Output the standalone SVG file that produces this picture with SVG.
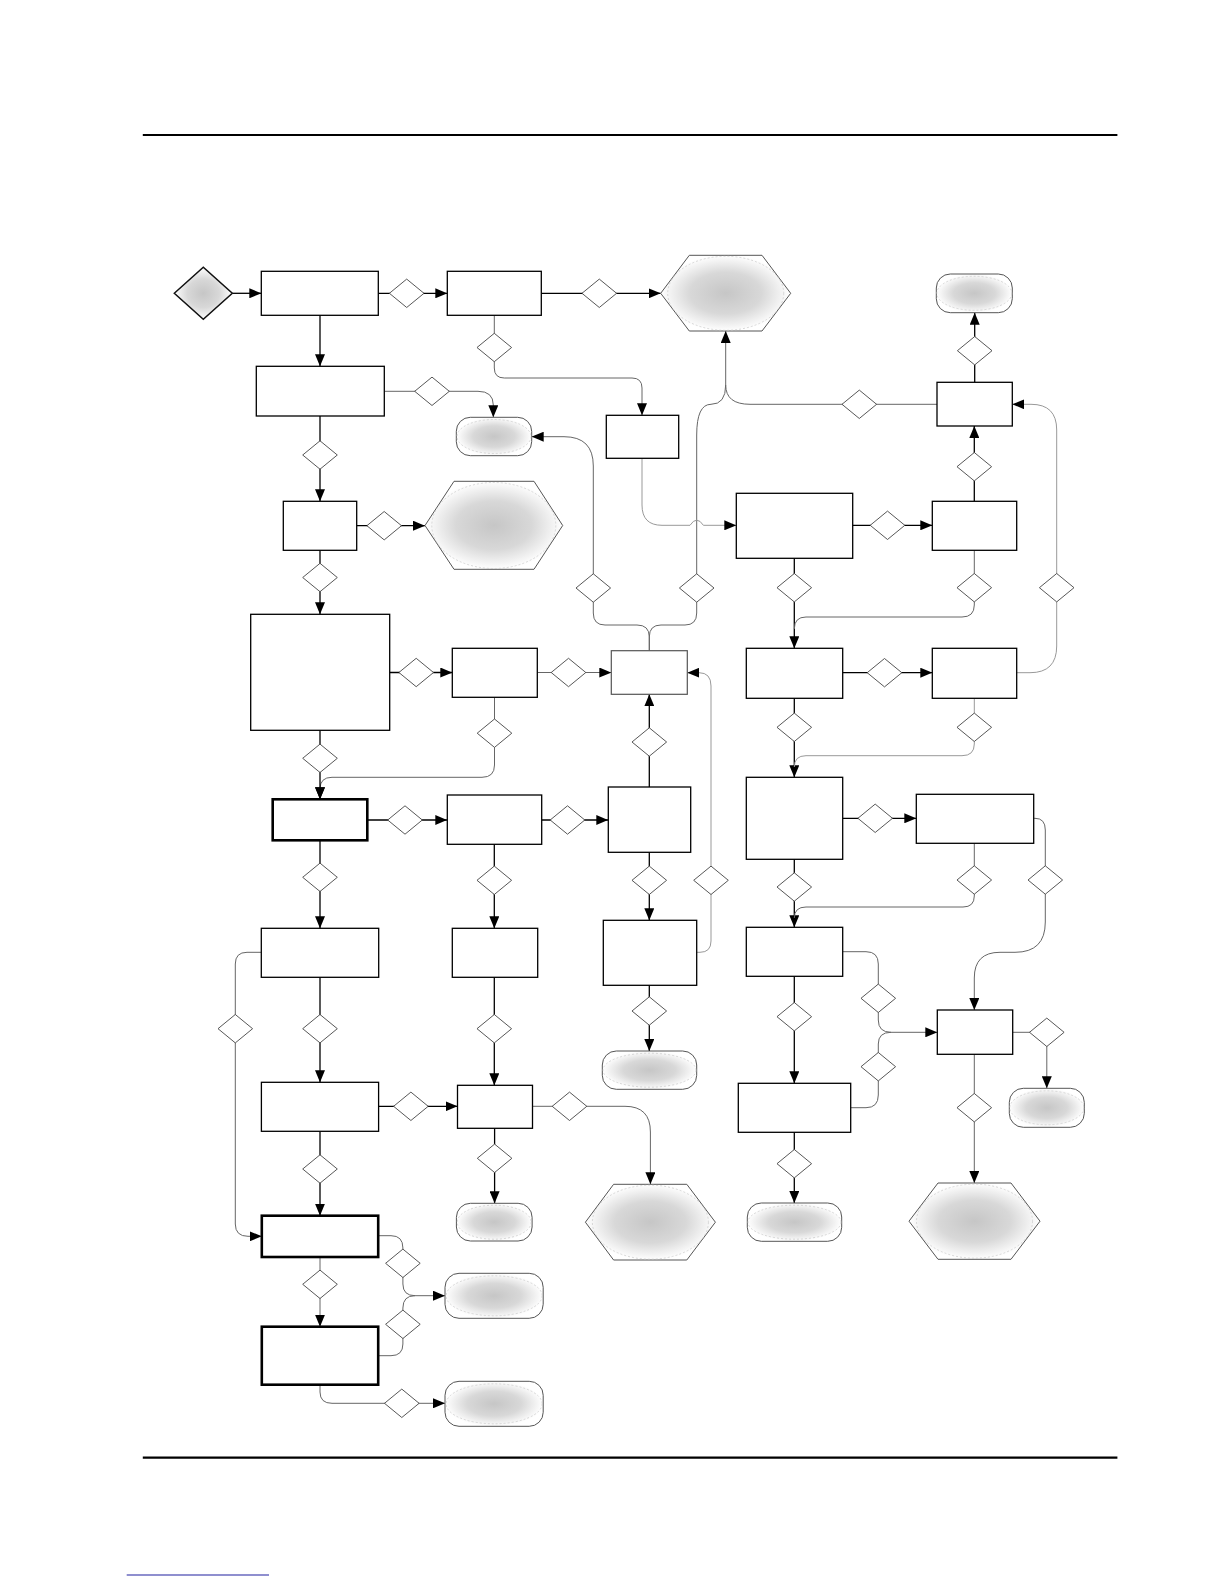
<svg xmlns="http://www.w3.org/2000/svg" xmlns:xlink="http://www.w3.org/1999/xlink" width="1224" height="1584" viewBox="0 0 1224 1584">
<style>
.bx{fill:#fff;stroke:#000;stroke-width:1.3}
.bxg{fill:#fff;stroke:#555;stroke-width:1.2}
.bxt{fill:#fff;stroke:#000;stroke-width:2.6}
.term{fill:url(#rg);stroke:#555;stroke-width:1}
.hex{fill:url(#rg);stroke:#555;stroke-width:1}
.inner{fill:none;stroke:#c8c8c8;stroke-width:0.7;stroke-dasharray:2 2}
.cb{fill:none;stroke:#000;stroke-width:1.3}
.cg{fill:none;stroke:#666;stroke-width:1}
.cl{fill:none;stroke:#999;stroke-width:1}
.arr{marker-end:url(#ah)}
.rule{stroke:#000;stroke-width:2.2}
</style>
<defs>
<radialGradient id="rg" cx="0.5" cy="0.5" r="0.5">
<stop offset="0" stop-color="#c6c6c6"/>
<stop offset="0.55" stop-color="#d8d8d8"/>
<stop offset="1" stop-color="#ffffff"/>
</radialGradient>
<marker id="ah" viewBox="0 0 12 10" refX="12" refY="5" markerWidth="12" markerHeight="10" markerUnits="userSpaceOnUse" orient="auto">
<path d="M0,0 L12,5 L0,10 Z" fill="#000"/>
</marker>
<path id="dm" d="M-17.3,0 L0,-14.2 L17.3,0 L0,14.2 Z" fill="#fff" stroke="#444" stroke-width="0.9"/>
</defs>
<rect width="1224" height="1584" fill="#fff"/>
<line class="rule" x1="142.8" y1="135" x2="1117.4" y2="135"/>
<line class="rule" x1="142.8" y1="1457.7" x2="1117.4" y2="1457.7"/>
<line x1="126.7" y1="1575" x2="269" y2="1575" stroke="#2020a0" stroke-width="1.2"/>

<g id="connectors">
<path class="cb arr" d="M232.3,293.3 H261.3"/>
<path class="cb arr" d="M378.3,293.3 H447.3"/>
<path class="cb arr" d="M541.3,293.3 H660.7"/>
<path class="cb arr" d="M320,315.3 V366.3"/>
<path class="cg arr" d="M494.3,315.3 V368 Q494.3,378 504.3,378 H632 Q642,378 642,388 V415.3"/>
<path class="cg arr" d="M384.3,391.3 H478 Q493.3,391.3 493.3,405 V417.3"/>
<path class="cb arr" d="M320,416 V501.3"/>
<path class="cb arr" d="M356.7,525.7 H425"/>
<path class="cb arr" d="M320,550.3 V614.3"/>
<path class="cb arr" d="M389.7,672.5 H452.3"/>
<path class="cg arr" d="M537.3,672.5 H611.3"/>
<path class="cg arr" d="M494.5,697.3 V765 Q494.5,777.3 482,777.3 H332 Q320,777.3 320,789 V799.3"/>
<path class="cb arr" d="M320,730.3 V799.3"/>
<path class="cg arr" d="M649.3,650.7 V637 Q649.3,625 637,625 H605 Q593.3,625 593.3,613 V466 Q593.3,436.7 564,436.7 H531.7"/>
<path class="cg arr" d="M649.3,650.7 V637 Q649.3,625 661,625 H685 Q696.7,625 696.7,613 V435 Q696.7,404.3 711,404.3 Q725.7,404.3 725.7,385 V331"/>
<path class="cg" d="M937,404.3 H750 Q725.7,404.3 725.7,385"/>
<path class="cl arr" d="M642,458.3 V505 Q642,525.3 662,525.3 H690 Q696.7,515 703.4,525.3 H736.3"/>
<path class="cb arr" d="M974.7,382.3 V312.7"/>
<path class="cb arr" d="M974.3,501.3 V426"/>
<path class="cb arr" d="M852.7,525.3 H932.3"/>
<path class="cb arr" d="M794.3,558.3 V648.3"/>
<path class="cg" d="M974.3,550.3 V605 Q974.3,617 962,617 H806 Q794.3,617 794.3,629"/>
<path class="cl arr" d="M1016.7,672.7 H1030 Q1056.7,672.7 1056.7,646 V430 Q1056.7,404.3 1031,404.3 H1012.3"/>
<path class="cb arr" d="M842.7,672.7 H932.3"/>
<path class="cb arr" d="M794.3,698.3 V777.3"/>
<path class="cl" d="M974.3,698.3 V744 Q974.3,755.7 962,755.7 H806 Q794.3,755.7 794.3,767"/>
<path class="cb arr" d="M367.3,820 H447.3"/>
<path class="cb arr" d="M541.7,820 H608.3"/>
<path class="cb arr" d="M649.3,787 V694.3"/>
<path class="cb arr" d="M320,840.3 V928.3"/>
<path class="cb arr" d="M494.3,844.3 V928.3"/>
<path class="cb arr" d="M649.3,852.3 V920.3"/>
<path class="cl arr" d="M696.7,952.3 H700 Q711,952.3 711,941 V686 Q711,672.7 699,672.7 H687.3"/>
<path class="cb arr" d="M649.3,985.3 V1051"/>
<path class="cb arr" d="M842.7,818.3 H916.3"/>
<path class="cb arr" d="M794.3,859.3 V927.3"/>
<path class="cg" d="M974.3,843.3 V896 Q974.3,907 963,907 H806 Q794.3,907 794.3,918"/>
<path class="cg arr" d="M1033.7,818.3 H1035 Q1045.3,818.3 1045.3,830 V922 Q1045.3,952.3 1015,952.3 H1000 Q974.3,952.3 974.3,978 V1010"/>
<path class="cg arr" d="M842.7,951.7 H866 Q878.3,951.7 878.3,964 V1020 Q878.3,1032.3 891,1032.3 H937.3"/>
<path class="cg" d="M850.7,1107.7 H866 Q878.3,1107.7 878.3,1095 V1044 Q878.3,1032.3 891,1032.3"/>
<path class="cb arr" d="M794.3,976.3 V1083.3"/>
<path class="cg arr" d="M1012.7,1032.3 H1046.8 V1088.3"/>
<path class="cg arr" d="M974.3,1054.3 V1183"/>
<path class="cb arr" d="M794.3,1132.3 V1203"/>
<path class="cg arr" d="M261.3,952.3 H247 Q235.3,952.3 235.3,964 V1224 Q235.3,1236.3 248,1236.3 H261.8"/>
<path class="cb arr" d="M320,977.3 V1082.3"/>
<path class="cb arr" d="M494.3,977.3 V1085.3"/>
<path class="cb arr" d="M378.6,1106.3 H457.5"/>
<path class="cg arr" d="M532.5,1106.3 H625 Q650.4,1106.3 650.4,1132 V1184.3"/>
<path class="cb arr" d="M494.6,1128.3 V1203.3"/>
<path class="cb arr" d="M320,1131.3 V1215.7"/>
<path class="cg arr" d="M320,1257 V1326.7"/>
<path class="cg arr" d="M378.2,1235.7 H391 Q402.9,1235.7 402.9,1248 V1284 Q402.9,1295.7 415,1295.7 H445"/>
<path class="cg" d="M378.2,1355.7 H391 Q402.9,1355.7 402.9,1344 V1308 Q402.9,1295.7 415,1295.7"/>
<path class="cg arr" d="M320,1384.7 V1392 Q320,1403.3 332,1403.3 H445"/>
</g>

<g id="conditions">
<use id="c1" href="#dm" x="406.7" y="293.3"/>
<use id="c2" href="#dm" x="599.3" y="293.3"/>
<use id="c3" href="#dm" x="494.3" y="347.5"/>
<use id="c4" href="#dm" x="432" y="391.3"/>
<use id="c5" href="#dm" x="974.7" y="350.7"/>
<use id="c6" href="#dm" x="859.3" y="404.3"/>
<use id="c7" href="#dm" x="320" y="455"/>
<use id="c8" href="#dm" x="974.3" y="466.7"/>
<use id="c9" href="#dm" x="384.2" y="525.7"/>
<use id="c10" href="#dm" x="887.5" y="525.3"/>
<use id="c11" href="#dm" x="320" y="577.5"/>
<use id="c12" href="#dm" x="593.3" y="588"/>
<use id="c13" href="#dm" x="696.7" y="588"/>
<use id="c14" href="#dm" x="794.3" y="587.7"/>
<use id="c15" href="#dm" x="974.3" y="587.7"/>
<use id="c16" href="#dm" x="1056.7" y="587.7"/>
<use id="c17" href="#dm" x="416.2" y="672.5"/>
<use id="c18" href="#dm" x="568.5" y="672.5"/>
<use id="c19" href="#dm" x="884.5" y="672.7"/>
<use id="c20" href="#dm" x="494.5" y="733.2"/>
<use id="c21" href="#dm" x="649.3" y="742"/>
<use id="c22" href="#dm" x="794.3" y="727.3"/>
<use id="c23" href="#dm" x="974.3" y="727.3"/>
<use id="c24" href="#dm" x="320" y="758.3"/>
<use id="c25" href="#dm" x="405" y="820"/>
<use id="c26" href="#dm" x="567.5" y="820"/>
<use id="c27" href="#dm" x="875.2" y="818.3"/>
<use id="c28" href="#dm" x="320" y="877.3"/>
<use id="c29" href="#dm" x="494.3" y="880.3"/>
<use id="c30" href="#dm" x="649.3" y="880.3"/>
<use id="c31" href="#dm" x="711" y="880.3"/>
<use id="c32" href="#dm" x="794.3" y="887"/>
<use id="c33" href="#dm" x="974.3" y="880"/>
<use id="c34" href="#dm" x="1045.3" y="880"/>
<use id="c35" href="#dm" x="878.3" y="998.3"/>
<use id="c36" href="#dm" x="649.3" y="1011"/>
<use id="c37" href="#dm" x="794.3" y="1016.7"/>
<use id="c38" href="#dm" x="235.3" y="1028.7"/>
<use id="c39" href="#dm" x="320" y="1028.7"/>
<use id="c40" href="#dm" x="494.3" y="1028.7"/>
<use id="c41" href="#dm" x="1046.8" y="1032.3"/>
<use id="c42" href="#dm" x="878.3" y="1066.7"/>
<use id="c43" href="#dm" x="410.9" y="1106.3"/>
<use id="c44" href="#dm" x="569.5" y="1106.3"/>
<use id="c45" href="#dm" x="974.3" y="1107.7"/>
<use id="c46" href="#dm" x="494.6" y="1158.3"/>
<use id="c47" href="#dm" x="794.3" y="1163.7"/>
<use id="c48" href="#dm" x="320" y="1169"/>
<use id="c49" href="#dm" x="402.9" y="1263.3"/>
<use id="c50" href="#dm" x="320" y="1284.3"/>
<use id="c51" href="#dm" x="402.9" y="1324.3"/>
<use id="c52" href="#dm" x="401.8" y="1403.3"/>
</g>

<g id="start"><polygon points="174.3,293.3 203.3,267.3 232.3,293.3 203.3,319.3" fill="url(#rg)" stroke="#111" stroke-width="1.5"/></g>

<g id="nA"><rect class="bx" x="261.3" y="271.3" width="117" height="44"/></g>
<g id="nB"><rect class="bx" x="447.3" y="271.3" width="94" height="44"/></g>
<g id="nC"><rect class="bx" x="256.3" y="366.3" width="128" height="49.7"/></g>
<g id="nBx"><rect class="bx" x="606.3" y="415.3" width="72.4" height="43"/></g>
<g id="nR1"><rect class="bx" x="937" y="382.3" width="75.3" height="43.7"/></g>
<g id="nD"><rect class="bx" x="283.3" y="501.3" width="73.4" height="49"/></g>
<g id="nH"><rect class="bx" x="736.3" y="493.3" width="116.4" height="65"/></g>
<g id="nI"><rect class="bx" x="932.3" y="501.3" width="84.4" height="49"/></g>
<g id="nE"><rect class="bx" x="250.7" y="614.3" width="139" height="116"/></g>
<g id="nF"><rect class="bx" x="452.3" y="648.3" width="85" height="49"/></g>
<g id="nG"><rect class="bxg" x="611.3" y="650.7" width="76" height="43.6"/></g>
<g id="nJ"><rect class="bx" x="746.3" y="648.3" width="96.4" height="50"/></g>
<g id="nK"><rect class="bx" x="932.3" y="648.3" width="84.4" height="50"/></g>
<g id="nM"><rect class="bxt" x="272.7" y="799.3" width="94.6" height="41"/></g>
<g id="nN"><rect class="bx" x="447.3" y="795" width="94.4" height="49.3"/></g>
<g id="nO"><rect class="bx" x="608.3" y="787" width="82.4" height="65.3"/></g>
<g id="nL"><rect class="bx" x="746.3" y="777.3" width="96.4" height="82"/></g>
<g id="nY"><rect class="bx" x="916.3" y="794.3" width="117.4" height="49"/></g>
<g id="nP"><rect class="bx" x="261.3" y="928.3" width="117.4" height="49"/></g>
<g id="nQ"><rect class="bx" x="452.3" y="928.3" width="85.4" height="49"/></g>
<g id="nS"><rect class="bx" x="603.3" y="920.3" width="93.4" height="65"/></g>
<g id="nZ"><rect class="bx" x="746.3" y="927.3" width="96.4" height="49"/></g>
<g id="nAA"><rect class="bx" x="937.3" y="1010" width="75.4" height="44.3"/></g>
<g id="nU"><rect class="bx" x="261.4" y="1082.3" width="117.2" height="49"/></g>
<g id="nV"><rect class="bx" x="457.5" y="1085.3" width="75" height="43"/></g>
<g id="nAB"><rect class="bx" x="738.3" y="1083.3" width="112.4" height="49"/></g>
<g id="nW"><rect class="bxt" x="261.8" y="1215.7" width="116.4" height="41.3"/></g>
<g id="nX"><rect class="bxt" x="261.8" y="1326.7" width="116.4" height="58"/></g>

<g id="t1"><rect class="term" x="456.3" y="417.3" width="75.4" height="38.4" rx="14"/><ellipse class="inner" cx="494" cy="436.5" rx="37" ry="17"/></g>
<g id="t2"><rect class="term" x="936.3" y="274" width="76" height="38.7" rx="14"/><ellipse class="inner" cx="974.3" cy="293.3" rx="37.5" ry="17"/></g>
<g id="t3"><rect class="term" x="602.3" y="1051" width="94.4" height="38.3" rx="14"/><ellipse class="inner" cx="649.5" cy="1070.2" rx="46.5" ry="17"/></g>
<g id="t4"><rect class="term" x="456.4" y="1203.3" width="75.7" height="37.7" rx="14"/><ellipse class="inner" cx="494.2" cy="1222.2" rx="37" ry="17"/></g>
<g id="t5"><rect class="term" x="445" y="1273.3" width="98.2" height="45" rx="14"/><ellipse class="inner" cx="494.1" cy="1295.8" rx="48" ry="20"/></g>
<g id="t6"><rect class="term" x="445" y="1381.3" width="98.2" height="45" rx="14"/><ellipse class="inner" cx="494.1" cy="1403.8" rx="48" ry="20"/></g>
<g id="t7"><rect class="term" x="1009.3" y="1088.3" width="75" height="39" rx="14"/><ellipse class="inner" cx="1046.8" cy="1107.8" rx="37" ry="17"/></g>
<g id="t8"><rect class="term" x="747.3" y="1203" width="94.4" height="38.3" rx="14"/><ellipse class="inner" cx="794.5" cy="1222.2" rx="46.5" ry="17"/></g>

<g id="h1"><polygon class="hex" points="660.7,293.3 689.3,255.3 762,255.3 790.7,293.3 762,331 689.3,331"/><ellipse class="inner" cx="725.7" cy="293.3" rx="58" ry="37"/></g>
<g id="h2"><polygon class="hex" points="425,525.5 454,481.3 534,481.3 562.7,525.5 534,569.3 454,569.3"/><ellipse class="inner" cx="493.8" cy="525.5" rx="62" ry="43"/></g>
<g id="h3"><polygon class="hex" points="585.4,1222.2 613.6,1184.3 686.8,1184.3 715.4,1222.2 686.8,1260 613.6,1260"/><ellipse class="inner" cx="650.4" cy="1222.2" rx="58" ry="37"/></g>
<g id="h4"><polygon class="hex" points="909,1221.2 938,1183 1011,1183 1040,1221.2 1011,1259.3 938,1259.3"/><ellipse class="inner" cx="974.5" cy="1221.2" rx="58" ry="37"/></g>
</svg>
